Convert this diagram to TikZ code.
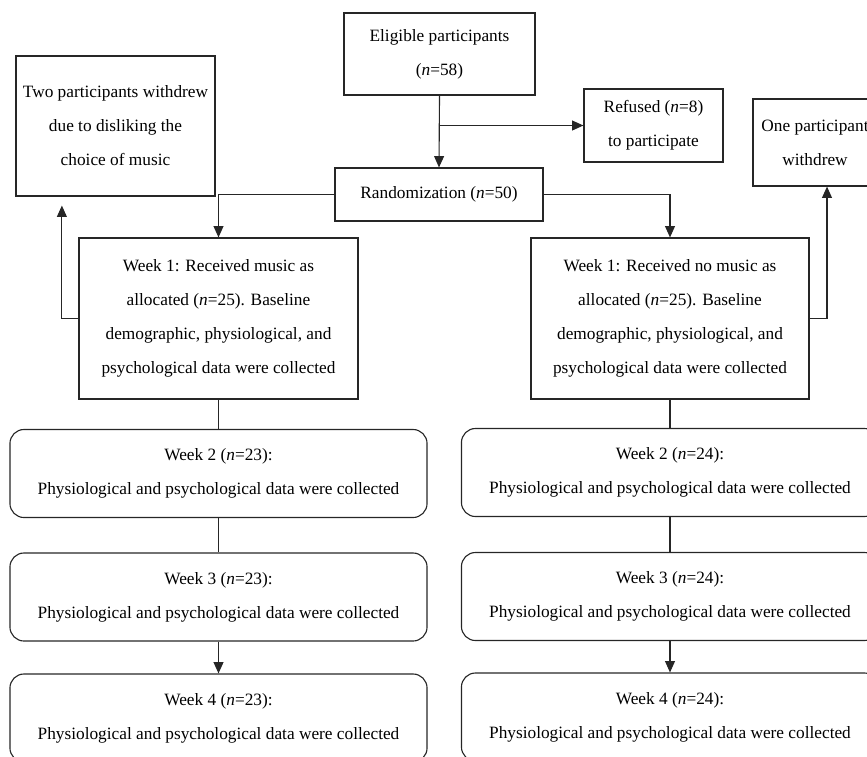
\documentclass[tikz,border=0pt]{standalone}
\usepackage{fontspec}
\setmainfont{Liberation Serif}
\usepackage{tikz}
\usetikzlibrary{arrows.meta,positioning,calc}

\newcommand{\nn}{\textit{n}}

\begin{document}
\begin{tikzpicture}[
    x=0.025cm, y=-0.025cm,
    box/.style={rectangle, draw=black!85, line width=0.8pt, align=center, inner sep=2pt, font=\fontsize{12.3}{24.2}\selectfont},
    weekbox/.style={box, rounded corners=10pt, minimum width=10.425cm, minimum height=2.2cm},
    arrow/.style={-{Triangle[length=8pt,width=7pt]}, line width=0.8pt, draw=black!85},
    line/.style={line width=0.8pt, draw=black!85}
]
    \path[use as bounding box, clip] (0,0) rectangle (867,756);

    % Enrolment
    \node[box, minimum width=4.775cm, minimum height=2.05cm] (elig) at (439.5,54) {Eligible participants\\(\nn=58)};
    \node[box, minimum width=3.475cm, minimum height=1.825cm] (refused) at (653.5,125.5) {Refused (\nn=8)\\to participate};
    \node[box, minimum width=5.2cm, minimum height=1.325cm] (rand) at (439,194.5) {Randomization (\nn=50)};

    % Withdrawals
    \node[box, minimum width=4.975cm, minimum height=3.5cm] (twoout) at (115.5,126) {Two participants withdrew\\due to disliking the\\choice of music};
    \node[box, minimum width=3.1cm, minimum height=2.175cm] (oneout) at (815,142.5) {One participant\\withdrew};

    % Week 1
    \node[box, minimum width=6.975cm, minimum height=4.025cm] (musicA) at (218.5,318.5) {Week 1: Received music as\\allocated (\nn=25). Baseline\\demographic, physiological, and\\psychological data were collected};
    \node[box, minimum width=6.95cm, minimum height=4.025cm] (musicB) at (670,318.5) {Week 1: Received no music as\\allocated (\nn=25). Baseline\\demographic, physiological, and\\psychological data were collected};

    % Weeks 2-4
    \node[weekbox] (wkAtwo) at (218.5,473.5) {Week 2 (\nn=23):\\Physiological and psychological data were collected};
    \node[weekbox] (wkAthree) at (218.5,597) {Week 3 (\nn=23):\\Physiological and psychological data were collected};
    \node[weekbox] (wkAfour) at (218.5,718) {Week 4 (\nn=23):\\Physiological and psychological data were collected};
    \node[weekbox] (wkBtwo) at (670,472.5) {Week 2 (\nn=24):\\Physiological and psychological data were collected};
    \node[weekbox] (wkBthree) at (670,596.5) {Week 3 (\nn=24):\\Physiological and psychological data were collected};
    \node[weekbox] (wkBfour) at (670,717) {Week 4 (\nn=24):\\Physiological and psychological data were collected};

    % Connections
    \coordinate (split) at (elig.south |- refused.west);
    \draw[arrow] (elig.south) -- (rand.north);
    \draw[arrow] (split) -- (refused.west);
    \draw[arrow] (rand.west) -| (musicA.north);
    \draw[arrow] (rand.east) -| (musicB.north);
    \draw[arrow] (musicA.west) -| ([xshift=-1.34cm,yshift=-0.225cm]twoout.south);
    \draw[arrow] (musicB.east) -| ([xshift=0.3cm]oneout.south);

    \draw[line] (musicA.south) -- (wkAtwo.north);
    \draw[line] (wkAtwo.south) -- (wkAthree.north);
    \draw[arrow] (wkAthree.south) -- (wkAfour.north);
    \draw[line] (musicB.south) -- (wkBtwo.north);
    \draw[line] (wkBtwo.south) -- (wkBthree.north);
    \draw[arrow] (wkBthree.south) -- (wkBfour.north);

\end{tikzpicture}
\end{document}
